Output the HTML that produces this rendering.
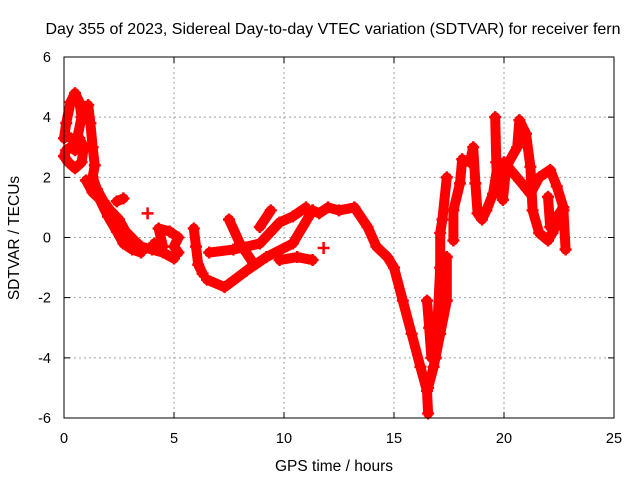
<!DOCTYPE html>
<html><head><meta charset="utf-8"><style>
body{margin:0;background:#fff;}
svg text{font-family:"Liberation Sans",sans-serif;fill:#000;}
</style></head><body>
<svg id="chart" width="640" height="480">
<rect width="640" height="480" fill="#fff"/>
<text x="333" y="34" font-size="16" text-anchor="middle">Day 355 of 2023, Sidereal Day-to-day VTEC variation (SDTVAR) for receiver fern</text>
<g id="grid"></g>
<g id="axes"></g>
<g id="series"></g>
<rect x="64" y="57" width="550" height="361" fill="none" stroke="#000" stroke-width="1"/>
<text x="334" y="471" font-size="15.5" text-anchor="middle">GPS time / hours</text>
<text transform="translate(19,238) rotate(-90)" font-size="15.5" text-anchor="middle">SDTVAR / TECUs</text>
</svg>
<script>
const xTicks=[0,5,10,15,20,25];
const yTicks=[-6,-4,-2,0,2,4,6];
const track1=[[0,3.3],[0.1,3.8],[0.3,4.5],[0.5,4.8],[0.7,4.5],[0.8,4],[0.6,3.3],[0.5,2.9],[0.3,3],[0.1,2.9],[0,2.7],[0.2,2.5],[0.5,2.3],[0.8,2.5],[0.9,3.0],[0.7,3.3],[0.3,3.3]];
const track2=[[1.1,4.4],[1.2,3.8],[1.3,3.0],[1.4,2.4],[1.3,2.0],[1.5,1.6],[1.8,1.2],[2.1,0.9],[2.5,0.6],[2.8,0.2],[3.2,-0.1],[3.5,-0.3],[4,-0.4],[4.5,-0.5],[5,-0.7]];
const track3=[[1.0,1.9],[1.3,1.5],[1.6,1.3],[2.0,0.7],[2.4,0.2],[2.7,-0.2],[3.1,-0.4],[3.5,-0.5]];
const track4=[[2.4,1.2],[2.7,1.3]];
const track5=[[3.8,0.8]];
const track6=[[4.1,-0.2],[4.5,-0.3],[4.3,0.3],[4.8,0.2],[5.2,0.0],[5.0,-0.3],[5.2,-0.5]];
const track7=[[5.9,0.3],[6.0,-0.3],[6.1,-0.9],[6.3,-1.2]];
const track8=[[6.5,-1.4],[7.3,-1.65],[8.3,-1.1],[9.2,-0.65],[10.4,-0.2],[11.3,0.9]];
const track9=[[6.6,-0.5],[7.7,-0.4],[8.9,-0.2],[9.8,0.5],[10.4,0.7],[11,1.0]];
const track10=[[7.5,0.6],[8,-0.2],[8.6,-0.85]];
const track11=[[8.9,0.35],[9.4,0.9]];
const track12=[[9.8,-0.75],[10.6,-0.65],[11.3,-0.75]];
const track13=[[11.8,-0.35]];
const track14=[[11.3,0.9],[11.6,0.8],[12,1.0],[12.5,0.9],[13.2,1.0],[13.8,0.35],[14.2,-0.3],[14.7,-0.65],[15.0,-1.0],[15.4,-2.1],[15.8,-3.2],[16.2,-4.3],[16.5,-5.1],[16.55,-5.85]];
const track15=[[16.55,-5.0],[16.8,-4.3],[17.1,-3.2],[17.4,-2.1],[17.4,-0.65]];
const track16=[[16.5,-2.1],[16.6,-3.0],[16.7,-4.0]];
const track17=[[16.9,-4.0],[17.1,-1.0],[17.1,0.15],[17.2,0.6],[17.4,2.0]];
const track18=[[17.7,-0.1],[17.7,0.9],[18,1.8],[18.1,2.6],[18.45,2.5],[18.6,3.0],[18.7,1.8],[18.8,0.8],[19.0,0.6],[19.2,0.9],[19.5,1.45],[19.7,2.35],[19.95,1.25],[20.1,2.35],[20.6,3.0],[20.7,3.9],[21.0,3.45],[21.2,2.35],[21.3,0.9],[21.6,0.15],[22.0,-0.1],[22.2,0.15],[22.5,0.6],[22.7,0.9],[22.8,-0.4]];
const track19=[[19.6,4.0],[19.65,2.5],[19.7,1.5]];
const track20=[[20.0,2.5],[20.7,1.9],[21.2,1.45],[21.6,2.0],[22.1,2.25],[22.4,1.7],[22.7,1.0],[22.1,0.35],[22.0,1.35]];
const tracks=[track1,track2,track3,track4,track5,track6,track7,track8,track9,track10,track11,track12,track13,track14,track15,track16,track17,track18,track19,track20];
const NS="http://www.w3.org/2000/svg";
const X=v=>64+v*22, Y=v=>237.5-v*30.083;
const grid=document.getElementById('grid'),axes=document.getElementById('axes'),ser=document.getElementById('series');
function mk(tag,at,p){const e=document.createElementNS(NS,tag);for(const k in at)e.setAttribute(k,at[k]);p.appendChild(e);return e;}
xTicks.forEach(t=>{
 if(t>0&&t<25){const g=mk('line',{x1:X(t),x2:X(t),y1:57,y2:418,stroke:'#a0a0a0','stroke-dasharray':'2,3'},grid);
 
 }
 const tk=mk('path',{d:`M${X(t)},418v-6M${X(t)},57v6`,stroke:'#000'},axes);
 
 
 const l=mk('text',{x:X(t),y:443,'font-size':14.5,'text-anchor':'middle'},axes);l.textContent=t;
 
 
});
yTicks.forEach(t=>{
 if(t>-6&&t<6){const g=mk('line',{x1:64,x2:614,y1:Y(t),y2:Y(t),stroke:'#a0a0a0','stroke-dasharray':'2,3'},grid);
 
 }
 const tk=mk('path',{d:`M64,${Y(t)}h6M614,${Y(t)}h-6`,stroke:'#000'},axes);
 
 
 const l=mk('text',{x:51,y:Y(t)+5,'font-size':14.5,'text-anchor':'end'},axes);l.textContent=t;
 
 
});
tracks.forEach(tr=>{
 if(tr.length>1){const pl=mk('polyline',{points:tr.map(p=>X(p[0])+','+Y(p[1])).join(' '),fill:'none',stroke:'#ff0000','stroke-width':10,'stroke-linejoin':'round','stroke-linecap':'round'},ser);
 
 }
 tr.forEach(p=>{const m=mk('path',{d:`M${X(p[0])-6},${Y(p[1])}h12M${X(p[0])},${Y(p[1])-6}v12`,stroke:'#ff0000','stroke-width':2.5},ser);
 
 });
});
</script>
</body></html>
